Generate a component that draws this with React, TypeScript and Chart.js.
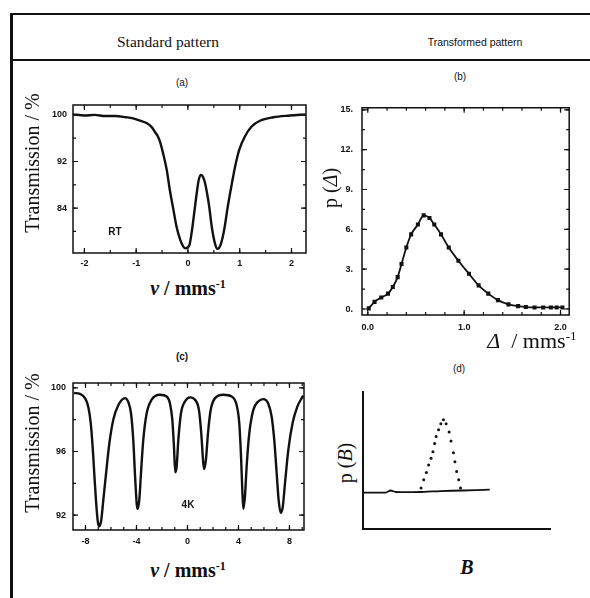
import React, { useEffect, useRef } from "react";
import { Chart, registerables } from "chart.js";
Chart.register(...registerables);

// ---------- Panel (a): room-temperature doublet ----------
const aVelocity = [-2.22, -2.0, -1.8, -1.6, -1.4, -1.2, -1.06, -0.92, -0.8, -0.7, -0.64, -0.58, -0.54, -0.48, -0.41, -0.35, -0.28, -0.22, -0.15, -0.09, -0.04, 0.0, 0.03, 0.07, 0.12, 0.17, 0.21, 0.25, 0.29, 0.33, 0.37, 0.41, 0.46, 0.52, 0.57, 0.63, 0.7, 0.77, 0.85, 0.91, 0.99, 1.1, 1.23, 1.39, 1.65, 1.97, 2.26];
const aTransmission = [100.1, 99.9, 100.0, 99.8, 99.8, 99.6, 99.4, 99.0, 98.6, 97.9, 97.1, 96.3, 95.4, 93.4, 90.6, 87.1, 83.7, 80.8, 78.6, 77.4, 77.1, 77.3, 77.7, 79.7, 83.1, 86.6, 88.9, 89.7, 89.4, 88.3, 86.5, 84.3, 80.8, 78.0, 77.0, 77.7, 80.3, 84.3, 88.3, 91.1, 94.0, 96.3, 98.0, 99.0, 99.6, 99.9, 100.1];
const aTickX = [-2, -1, 0, 1, 2];
const aTickXLabels = ["-2", "-1", "0", "1", "2"];
const aTickY = [100, 92, 84];
const aTickYLabels = ["100", "92", "84"];

// ---------- Panel (b): quadrupole splitting distribution ----------
const bDelta = [0.01, 0.07, 0.14, 0.21, 0.26, 0.31, 0.35, 0.4, 0.45, 0.52, 0.58, 0.64, 0.69, 0.76, 0.84, 0.94, 1.05, 1.15, 1.25, 1.35, 1.46, 1.56, 1.64, 1.73, 1.82, 1.9, 1.96, 2.02];
const bProb = [0.05, 0.54, 0.87, 1.16, 1.66, 2.4, 3.39, 4.63, 5.62, 6.36, 7.05, 6.85, 6.36, 5.62, 4.63, 3.64, 2.65, 1.78, 1.16, 0.67, 0.35, 0.22, 0.15, 0.12, 0.12, 0.12, 0.12, 0.12];
const bTickX = [0, 1, 2];
const bTickXLabels = ["0.0", "1.0", "2.0"];
const bTickY = [0, 3, 6, 9, 12, 15];
const bTickYLabels = ["0.", "3.", "6.", "9.", "12.", "15."];

// ---------- Panel (c): 4 K sextet ----------
const cVelocity = [-8.9, -8.43, -8.04, -7.78, -7.59, -7.44, -7.31, -7.18, -7.05, -6.94, -6.78, -6.6, -6.39, -6.13, -5.82, -5.43, -4.9, -4.64, -4.43, -4.25, -4.12, -3.98, -3.91, -3.78, -3.65, -3.47, -3.2, -2.81, -2.16, -1.63, -1.37, -1.19, -1.06, -0.96, -0.85, -0.72, -0.51, -0.2, 0.2, 0.59, 0.9, 1.08, 1.24, 1.32, 1.45, 1.61, 1.82, 2.16, 2.81, 3.47, 3.86, 4.06, 4.2, 4.3, 4.38, 4.51, 4.64, 4.85, 5.16, 5.55, 5.95, 6.34, 6.6, 6.81, 7.0, 7.15, 7.31, 7.47, 7.65, 7.91, 8.25, 8.61, 8.96, 9.08];
const cTransmission = [99.67, 99.62, 99.35, 98.8, 97.8, 96.3, 94.6, 92.96, 91.7, 91.3, 91.6, 92.96, 94.6, 96.5, 97.99, 98.9, 99.35, 99.1, 98.4, 96.7, 94.6, 92.7, 92.4, 92.96, 94.6, 96.7, 98.4, 99.25, 99.56, 99.45, 99.0, 98.0, 96.3, 94.7, 95.05, 96.7, 98.4, 99.14, 99.4, 99.25, 98.6, 97.15, 95.26, 94.9, 95.5, 97.15, 98.6, 99.35, 99.56, 99.45, 98.9, 97.8, 95.7, 93.6, 92.4, 93.2, 95.05, 97.15, 98.6, 99.14, 99.29, 99.0, 98.2, 96.7, 94.6, 92.96, 92.15, 92.5, 94.0, 96.1, 97.8, 98.8, 99.35, 99.5];
const cTickX = [-8, -4, 0, 4, 8];
const cTickXLabels = ["-8", "-4", "0", "4", "8"];
const cTickY = [100, 96, 92];
const cTickYLabels = ["100", "96", "92"];

// ---------- Panel (d): hyperfine field distribution (arbitrary units) ----------
const dBaseB = [0, 12.1, 14.7, 17.4, 30.5, 41.1, 53.2, 67.4];
const dBaseP = [26.4, 26.4, 27.9, 26.8, 26.8, 27.5, 27.9, 28.6];
const dPeakB = [30.9, 32.3, 33.7, 34.9, 36.2, 37.2, 38.1, 38.9, 40.2, 41.4, 42.8, 44.2, 45.8, 46.8, 48.1, 48.9, 49.8, 50.9, 51.9];
const dPeakP = [29.8, 35.7, 40.9, 46.4, 51.2, 55.9, 61.9, 67.1, 71.9, 76.2, 79.1, 76.2, 70.2, 63.8, 55.2, 48.8, 41.6, 35.7, 29.8];

const INK = "#111";

function steps(a: number, b: number, s: number) {
  const out: number[] = [];
  for (let v = a; v <= b + 1e-9; v += s) out.push(Math.round(v * 1000) / 1000);
  return out;
}

const framePlugin = {
  id: "frameTicks",
  afterDatasetsDraw(chart: any, _args: any, opts: any) {
    const { ctx, chartArea: a, scales } = chart;
    const xs = scales.x, ys = scales.y;
    ctx.save();
    ctx.strokeStyle = INK;
    ctx.lineWidth = opts.lineWidth || 1.5;
    ctx.beginPath();
    if (opts.box) {
      ctx.rect(a.left, a.top, a.right - a.left, a.bottom - a.top);
    } else {
      ctx.moveTo(a.left, a.top);
      ctx.lineTo(a.left, a.bottom);
      ctx.lineTo(a.right, a.bottom);
    }
    ctx.stroke();
    ctx.lineWidth = 1.2;
    const drawX = (vals: number[], len: number) => {
      (vals || []).forEach((v) => {
        const p = xs.getPixelForValue(v);
        ctx.beginPath();
        ctx.moveTo(p, a.bottom); ctx.lineTo(p, a.bottom - len);
        ctx.moveTo(p, a.top); ctx.lineTo(p, a.top + len);
        ctx.stroke();
      });
    };
    const drawY = (vals: number[], len: number) => {
      (vals || []).forEach((v) => {
        const p = ys.getPixelForValue(v);
        ctx.beginPath();
        ctx.moveTo(a.left, p); ctx.lineTo(a.left + len, p);
        ctx.moveTo(a.right, p); ctx.lineTo(a.right - len, p);
        ctx.stroke();
      });
    };
    drawX(opts.xMinor, 3); drawX(opts.xMajor, 5);
    drawY(opts.yMinor, 3); drawY(opts.yMajor, 5);
    ctx.restore();
  },
};

type Area = { left: number; top: number; right: number; bottom: number };

function axis(min: number, max: number, vals: number[], labels: string[], size: number, horizontal: boolean, pad: number, show: boolean) {
  return {
    type: "linear",
    min,
    max,
    grid: { display: false, drawTicks: false },
    border: { display: false },
    ticks: {
      display: show,
      autoSkip: false,
      maxRotation: 0,
      minRotation: 0,
      padding: pad,
      color: INK,
      font: { family: "'Liberation Sans', Arial, sans-serif", size: 9, weight: "bold" },
      callback: (_v: any, i: number) => labels[i],
    },
    afterBuildTicks: (s: any) => {
      s.ticks = vals.map((v) => ({ value: v }));
    },
    afterFit: (s: any) => {
      if (horizontal) s.height = size; else s.width = size;
      s.paddingLeft = 0; s.paddingRight = 0; s.paddingTop = 0; s.paddingBottom = 0;
    },
  };
}

function ChartBox({ area, yW, xH, build }: { area: Area; yW: number; xH: number; build: (pad: number) => any }) {
  const ref = useRef<HTMLCanvasElement | null>(null);
  const pad = 3;
  const w = yW + (area.right - area.left) + pad;
  const h = pad + (area.bottom - area.top) + xH;
  useEffect(() => {
    if (!ref.current) return;
    const chart = new Chart(ref.current, build(pad));
    return () => chart.destroy();
  }, []);
  return (
    <canvas
      ref={ref}
      width={w}
      height={h}
      style={{ position: "absolute", left: area.left - yW, top: area.top - pad, width: w, height: h }}
    />
  );
}

function baseOptions(pad: number, frame: any, scales: any) {
  return {
    animation: false,
    responsive: false,
    maintainAspectRatio: false,
    devicePixelRatio: 1,
    events: [],
    layout: { padding: { top: pad, right: pad, left: 0, bottom: 0 } },
    plugins: { legend: { display: false }, tooltip: { enabled: false }, title: { display: false }, frameTicks: frame },
    scales,
  };
}

const areaA: Area = { left: 73, top: 105, right: 306, bottom: 253 };
const areaB: Area = { left: 362, top: 105, right: 572, bottom: 315 };
const areaC: Area = { left: 73, top: 383, right: 304, bottom: 530 };
const areaD: Area = { left: 362, top: 390, right: 552, bottom: 530 };

const buildA = (pad: number) => ({
  type: "line",
  data: {
    datasets: [{
      data: aVelocity.map((v, i) => ({ x: v, y: aTransmission[i] })),
      borderColor: INK, borderWidth: 2.4, pointRadius: 0, cubicInterpolationMode: "monotone", fill: false,
    }],
  },
  options: baseOptions(pad,
    { box: true, xMajor: aTickX, xMinor: steps(-2, 2, 0.5), yMajor: aTickY, yMinor: steps(80, 100, 4) },
    {
      x: axis(-2.22, 2.28, aTickX, aTickXLabels, 16, true, 5, true),
      y: axis(76.3, 101.7, aTickY, aTickYLabels, 33, false, 6, true),
    }),
  plugins: [framePlugin],
});

const buildB = (pad: number) => ({
  type: "line",
  data: {
    datasets: [{
      data: bDelta.map((v, i) => ({ x: v, y: bProb[i] })),
      borderColor: INK, backgroundColor: INK, borderWidth: 1.8, pointRadius: 1.6, pointStyle: "rect",
      cubicInterpolationMode: "monotone", fill: false,
    }],
  },
  options: baseOptions(pad,
    { box: true, xMajor: bTickX, xMinor: steps(0, 2.0, 0.2), yMajor: bTickY, yMinor: steps(0, 15, 1.5) },
    {
      x: axis(-0.06, 2.09, bTickX, bTickXLabels, 18, true, 7, true),
      y: axis(-0.45, 15.15, bTickY, bTickYLabels, 32, false, 9, true),
    }),
  plugins: [framePlugin],
});

const buildC = (pad: number) => ({
  type: "line",
  data: {
    datasets: [{
      data: cVelocity.map((v, i) => ({ x: v, y: cTransmission[i] })),
      borderColor: INK, borderWidth: 2.4, pointRadius: 0, cubicInterpolationMode: "monotone", fill: false,
    }],
  },
  options: baseOptions(pad,
    { box: true, xMajor: cTickX, xMinor: steps(-8, 9, 1), yMajor: cTickY, yMinor: steps(92, 100, 2) },
    {
      x: axis(-8.98, 9.14, cTickX, cTickXLabels, 16, true, 6, true),
      y: axis(91.07, 100.3, cTickY, cTickYLabels, 33, false, 7, true),
    }),
  plugins: [framePlugin],
});

const buildD = (pad: number) => ({
  type: "line",
  data: {
    datasets: [
      {
        data: dBaseB.map((v, i) => ({ x: v, y: dBaseP[i] })),
        borderColor: INK, borderWidth: 1.8, pointRadius: 0, tension: 0.2, fill: false,
      },
      {
        data: dPeakB.map((v, i) => ({ x: v, y: dPeakP[i] })),
        showLine: false, borderColor: INK, backgroundColor: INK, pointRadius: 1.5, pointBorderWidth: 0,
      },
    ],
  },
  options: baseOptions(pad,
    { box: false, lineWidth: 2 },
    {
      x: axis(0, 100, [], [], 3, true, 0, false),
      y: axis(0, 100, [], [], 3, false, 0, false),
    }),
  plugins: [framePlugin],
});

function Label({ x, y, children, style, rotate }: { x: number; y: number; children: any; style?: any; rotate?: boolean }) {
  return (
    <div
      style={{
        position: "absolute", left: x, top: y, whiteSpace: "nowrap", lineHeight: 1, color: INK,
        transform: `translate(-50%, -50%)${rotate ? " rotate(-90deg)" : ""}`,
        ...style,
      }}
    >
      {children}
    </div>
  );
}

const serif = "'Liberation Serif', 'Times New Roman', serif";
const sans = "'Liberation Sans', Arial, sans-serif";
const supStyle = { fontSize: "0.6em", position: "relative" as const, top: "-0.6em" };

export default function App() {
  return (
    <div style={{ position: "fixed", left: 0, top: 0, width: 590, height: 598, background: "#fff", overflow: "hidden" }}>
      {/* frame */}
      <div style={{ position: "absolute", left: 10, top: 13, width: 580, height: 2, background: INK }} />
      <div style={{ position: "absolute", left: 10, top: 13, width: 2.5, height: 585, background: INK }} />
      <div style={{ position: "absolute", left: 10, top: 59, width: 580, height: 2, background: INK }} />

      <Label x={168} y={42} style={{ fontFamily: serif, fontSize: 15.5 }}>Standard pattern</Label>
      <Label x={475} y={42} style={{ fontFamily: sans, fontSize: 10.5 }}>Transformed pattern</Label>

      <Label x={182} y={83} style={{ fontFamily: sans, fontSize: 10 }}>(a)</Label>
      <Label x={460} y={77} style={{ fontFamily: sans, fontSize: 10 }}>(b)</Label>
      <Label x={182} y={357} style={{ fontFamily: sans, fontSize: 10, fontWeight: "bold" }}>(c)</Label>
      <Label x={459} y={369} style={{ fontFamily: sans, fontSize: 10 }}>(d)</Label>

      <ChartBox area={areaA} yW={33} xH={16} build={buildA} />
      <ChartBox area={areaB} yW={32} xH={18} build={buildB} />
      <ChartBox area={areaC} yW={33} xH={16} build={buildC} />
      <ChartBox area={areaD} yW={3} xH={3} build={buildD} />

      <Label x={32} y={163} rotate style={{ fontFamily: serif, fontSize: 20 }}>Transmission / %</Label>
      <Label x={32} y={443} rotate style={{ fontFamily: serif, fontSize: 20 }}>Transmission / %</Label>
      <Label x={330} y={188} rotate style={{ fontFamily: serif, fontSize: 20 }}>p (<i>Δ</i>)</Label>
      <Label x={345} y={463} rotate style={{ fontFamily: serif, fontSize: 20 }}>p (<i>B</i>)</Label>

      <Label x={188} y={288} style={{ fontFamily: serif, fontSize: 20, fontWeight: "bold" }}><i>v</i> / mms<span style={supStyle}>-1</span></Label>
      <Label x={188} y={570} style={{ fontFamily: serif, fontSize: 20, fontWeight: "bold" }}><i>v</i> / mms<span style={supStyle}>-1</span></Label>
      <Label x={532} y={341} style={{ fontFamily: serif, fontSize: 22 }}><i>Δ</i>&nbsp; / mms<span style={supStyle}>-1</span></Label>
      <Label x={467} y={567} style={{ fontFamily: serif, fontSize: 20, fontWeight: "bold" }}><i>B</i></Label>

      <Label x={115} y={232} style={{ fontFamily: sans, fontSize: 10, fontWeight: "bold" }}>RT</Label>
      <Label x={188} y={505} style={{ fontFamily: sans, fontSize: 10, fontWeight: "bold" }}>4K</Label>
    </div>
  );
}
